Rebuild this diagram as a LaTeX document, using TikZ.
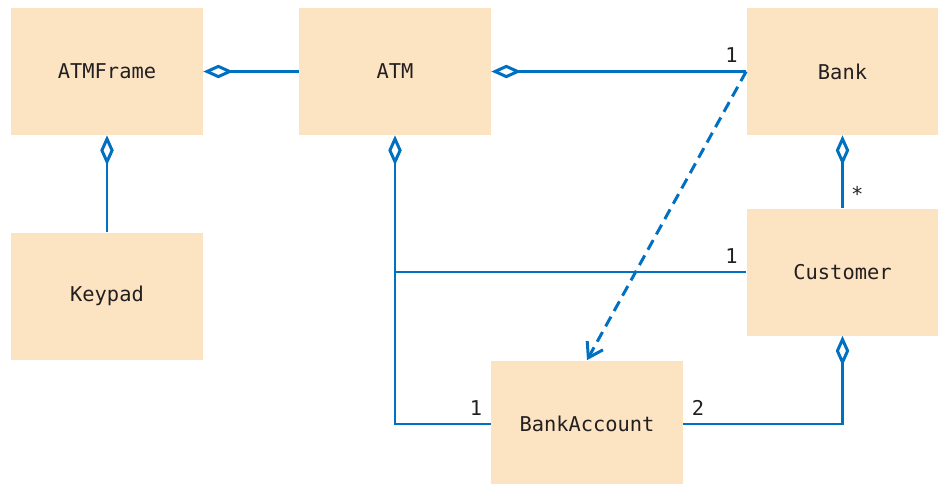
\documentclass[tikz,border=0pt]{standalone}
\usepackage{fontspec}
\setmonofont{DejaVu Sans Mono}
\usepackage{tikz}
\usetikzlibrary{arrows.meta,positioning,calc}
\usepackage{xcolor}
\definecolor{umlblue}{RGB}{0,112,192}
\definecolor{umlfill}{RGB}{252,228,194}
\definecolor{umltext}{RGB}{35,31,32}

\begin{document}
\begin{tikzpicture}[
    font=\ttfamily\fontsize{11.6}{13}\selectfont,
    text=umltext,
    cls/.style={fill=umlfill, minimum width=3.84cm, minimum height=2.54cm, inner sep=0pt},
    assoc/.style={draw=umlblue, line width=1.7pt},
    agg/.style={assoc, {Diamond[open, length=0.6cm, width=0.27cm, line width=1.7pt]}-},
    dep/.style={assoc, dash pattern=on 0.22cm off 0.13cm,
      -{Straight Barb[length=0.28cm, width=0.36cm, line width=1.7pt]}},
    mult/.style={inner sep=4pt}
  ]
  \useasboundingbox (0,0) rectangle (18.76,9.66);

  % Define coordinates for nodes
  \node[cls] (ATMFrame) at (2.14, 8.23) {ATMFrame};
  \node[cls] (ATM) at (7.90, 8.23) {ATM};
  \node[cls] (Bank) at (16.85, 8.23) {Bank};
  \node[cls] (Keypad) at (2.14, 3.74) {Keypad};
  \node[cls] (Customer) at (16.85, 4.22) {Customer};
  \node[cls] (BankAccount) at (11.74, 1.18) {BankAccount};
  \coordinate (split) at (ATM.south |- Customer.west);

  % Draw connectors between nodes
  \draw[agg] (ATMFrame.east) -- (ATM.west);
  \draw[agg] (ATMFrame.south) -- (Keypad.north);
  \draw[agg] (ATM.east) -- node[pos=1, above left, mult] {1} (Bank.west);
  \draw[agg] (ATM.south) |- node[pos=1, above left, mult] {1} (BankAccount.west);
  \draw[assoc] (split) -- node[pos=1, above left, mult] {1} (Customer.west);
  \draw[agg] (Bank.south) -- node[pos=0.8, right, mult] {*} (Customer.north);
  \draw[agg] (Customer.south) |- node[pos=1, above right, mult] {2} (BankAccount.east);
  \draw[dep] (Bank.west) -- (BankAccount.north);
\end{tikzpicture}
\end{document}
